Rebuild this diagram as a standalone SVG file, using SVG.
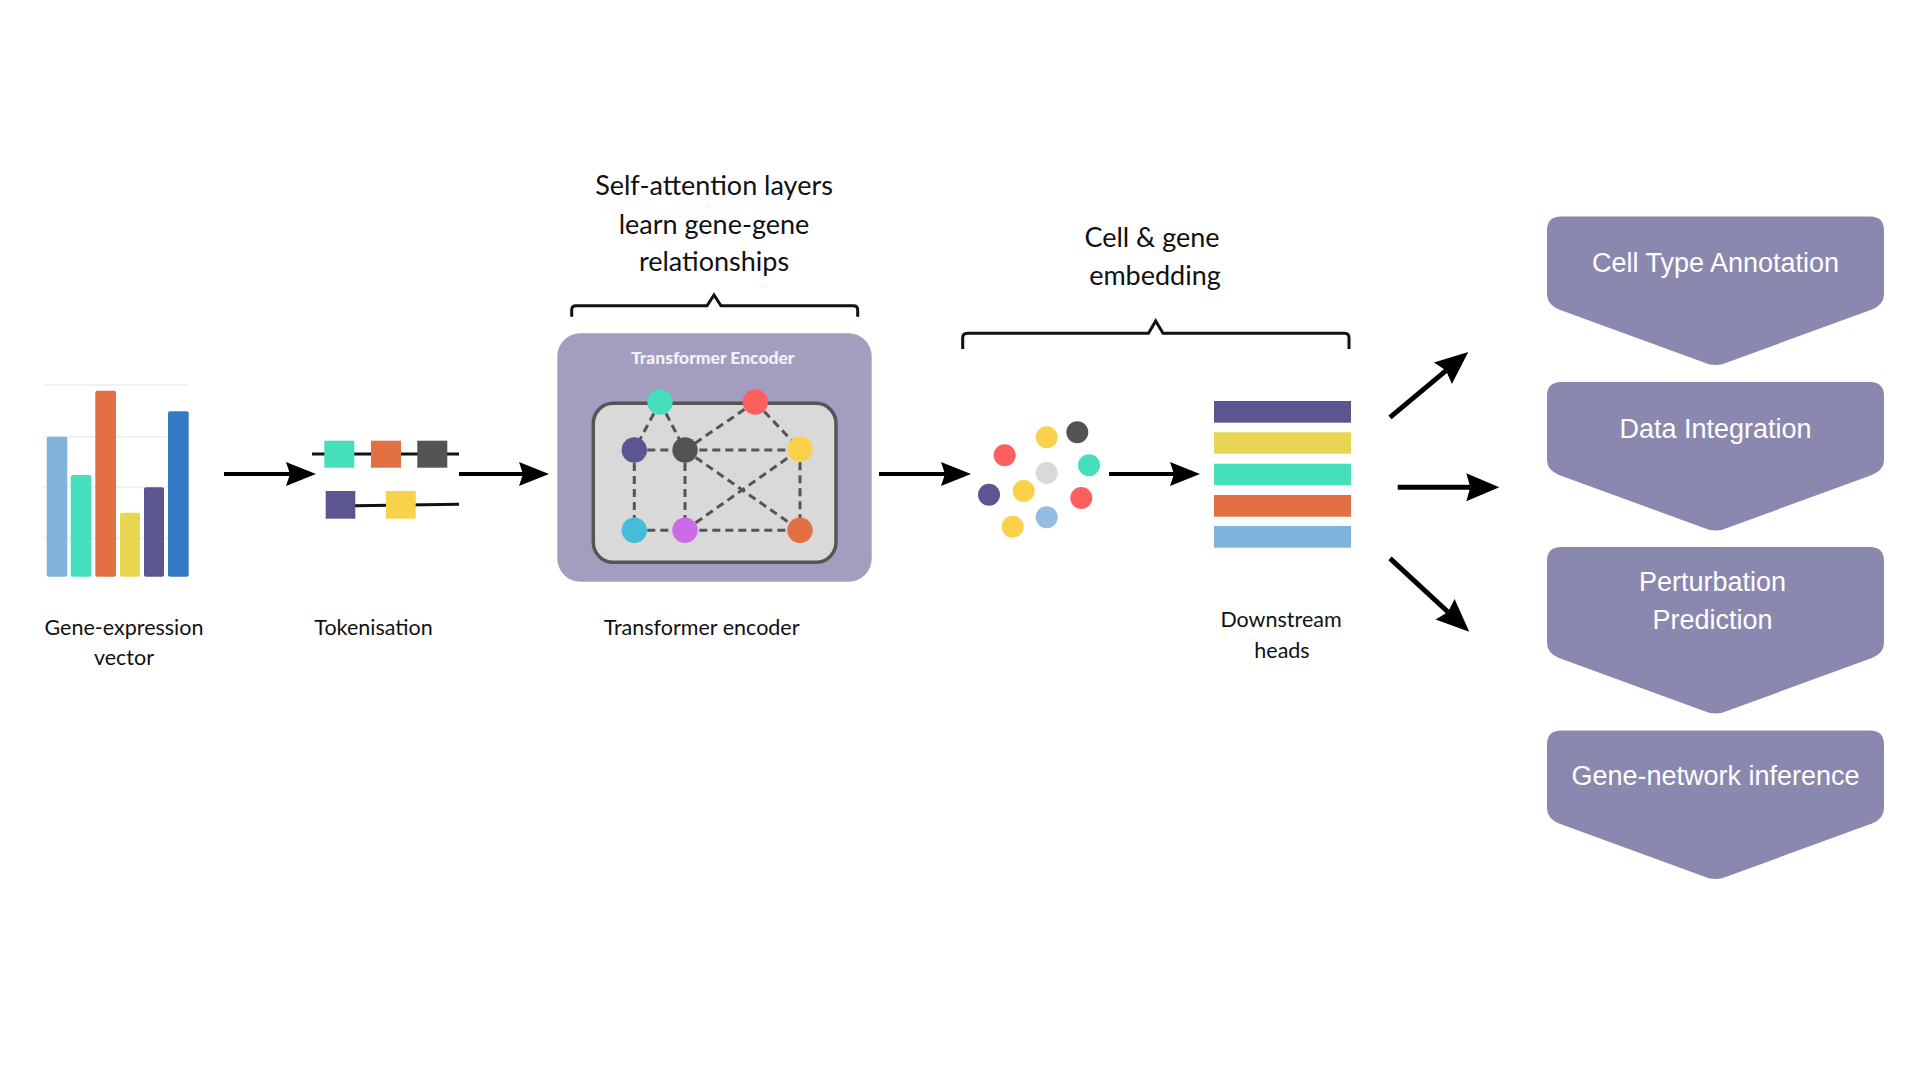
<svg xmlns="http://www.w3.org/2000/svg" width="1920" height="1080" viewBox="0 0 1920 1080">
<style>
.lbl{font-family:Lato,"Open Sans","DejaVu Sans",sans-serif;font-size:21.5px;fill:#111;text-anchor:middle}
.big{font-family:Lato,"Open Sans","DejaVu Sans",sans-serif;font-size:27px;fill:#111;text-anchor:middle}
.pt{font-family:"Liberation Sans",Arial,sans-serif;font-size:27px;fill:#ffffff;text-anchor:middle}
.panel{fill:#8b88b0}
.edge{stroke:#555555;stroke-width:3;stroke-dasharray:8 5;fill:none}
.arr{stroke:#000;stroke-width:4;fill:none}
.arrL{stroke:#000;stroke-width:5;fill:none}
.brace{stroke:#111;stroke-width:3;fill:none;stroke-linejoin:miter}
.grid{stroke:#eeeeee;stroke-width:1.5}
</style>
<defs>
<marker id="ah" markerUnits="userSpaceOnUse" markerWidth="40" markerHeight="40" refX="0" refY="0" orient="auto" overflow="visible">
<path d="M-4,-12 L26,0 L-4,12 L0,0 Z" fill="#000"/>
</marker>
<marker id="ahL" markerUnits="userSpaceOnUse" markerWidth="40" markerHeight="40" refX="0" refY="0" orient="auto" overflow="visible">
<path d="M-4,-14 L29,0 L-4,14 L0,0 Z" fill="#000"/>
</marker>
</defs>
<rect width="1920" height="1080" fill="#ffffff"/>

<g id="gene-expression">
<line class="grid" x1="43" y1="385" x2="188" y2="385"/>
<line class="grid" x1="43" y1="436.7" x2="188" y2="436.7"/>
<line class="grid" x1="43" y1="487" x2="188" y2="487"/>
<line class="grid" x1="43" y1="538" x2="188" y2="538"/>
<rect x="46.7" y="436.7" width="20.6" height="140" rx="2" fill="#7fb3dc"/>
<rect x="70.7" y="475" width="20.6" height="101.7" rx="2" fill="#45e0bb"/>
<rect x="95.3" y="390.7" width="20.7" height="186" rx="2" fill="#e37042"/>
<rect x="120" y="512.7" width="20" height="64" rx="2" fill="#e8d552"/>
<rect x="144" y="487.3" width="20" height="89.4" rx="2" fill="#5c5690"/>
<rect x="168" y="411.3" width="20.7" height="165.4" rx="2" fill="#3479c6"/>
<text class="lbl" x="124" y="635">Gene-expression</text>
<text class="lbl" x="124" y="665">vector</text>
</g>

<g id="tokenisation">
<line x1="312" y1="454" x2="459" y2="454" stroke="#111" stroke-width="3"/>
<line x1="355" y1="505.7" x2="459" y2="504.3" stroke="#111" stroke-width="3"/>
<rect x="324.3" y="440.7" width="30" height="27" fill="#45e0bb"/>
<rect x="371" y="440.7" width="30" height="27" fill="#e37042"/>
<rect x="417.3" y="440.7" width="30" height="27" fill="#545454"/>
<rect x="325.7" y="491" width="29.6" height="27.7" fill="#5c5690"/>
<rect x="386" y="491" width="29.7" height="27.7" fill="#f9d24b"/>
<text class="lbl" x="373.5" y="635">Tokenisation</text>
</g>

<g id="transformer-encoder">
<rect x="557.3" y="333.3" width="314.4" height="248.4" rx="23" fill="#a39ebf"/>
<text x="712.7" y="364" font-family="Lato,'Open Sans',sans-serif" font-weight="900" font-size="17.5" fill="#f3f1f8" text-anchor="middle">Transformer Encoder</text>
<rect x="593.3" y="403.3" width="242.7" height="159" rx="20" fill="#d9d9d9" stroke="#555555" stroke-width="3.5"/>
<g class="edges">
<line class="edge" x1="660" y1="402" x2="634.3" y2="450"/>
<line class="edge" x1="660" y1="402" x2="685" y2="450"/>
<line class="edge" x1="755.3" y1="402" x2="685" y2="450"/>
<line class="edge" x1="755.3" y1="402" x2="800" y2="449.3"/>
<line class="edge" x1="634.3" y1="450" x2="800" y2="450"/>
<line class="edge" x1="634.3" y1="450" x2="634.3" y2="530.3"/>
<line class="edge" x1="685" y1="450" x2="685" y2="530.3"/>
<line class="edge" x1="685" y1="450" x2="800" y2="530.3"/>
<line class="edge" x1="800" y1="449.3" x2="800" y2="530.3"/>
<line class="edge" x1="634.3" y1="530.3" x2="800" y2="530.3"/>
<line class="edge" x1="685" y1="530.3" x2="800" y2="449.3"/>
</g>
<circle cx="660" cy="402" r="12.7" fill="#45e0bb"/>
<circle cx="755.3" cy="402" r="12.7" fill="#fd5f5f"/>
<circle cx="634.3" cy="450" r="12.7" fill="#5c5690"/>
<circle cx="685" cy="450" r="12.7" fill="#535353"/>
<circle cx="800" cy="449.3" r="12.7" fill="#fbd14b"/>
<circle cx="634.3" cy="530.3" r="12.7" fill="#45bcd8"/>
<circle cx="685" cy="530.3" r="12.7" fill="#cc6ae8"/>
<circle cx="800" cy="530.3" r="12.7" fill="#e37042"/>
<text class="lbl" x="701.6" y="635">Transformer encoder</text>
</g>

<g id="self-attention-note">
<path class="brace" d="M571.7,316.7 L571.7,310 Q571.7,305.7 576,305.7 L707,305.7 L714,295 L721,305.7 L853.5,305.7 Q857.7,305.7 857.7,310 L857.7,316.7"/>
<text class="big" x="714" y="195">Self-attention layers</text>
<text class="big" x="714" y="234">learn gene-gene</text>
<text class="big" x="714" y="271">relationships</text>
</g>

<g id="embedding">
<circle cx="1046.7" cy="437.3" r="11" fill="#fbd14b"/>
<circle cx="1077.3" cy="432.3" r="11" fill="#535353"/>
<circle cx="1004.7" cy="455.3" r="11" fill="#fd5f5f"/>
<circle cx="1089" cy="465.3" r="11" fill="#45e0bb"/>
<circle cx="1046.7" cy="473" r="11" fill="#d9d9d9"/>
<circle cx="989" cy="494.7" r="11" fill="#5c5690"/>
<circle cx="1023.7" cy="491" r="11" fill="#fbd14b"/>
<circle cx="1081.3" cy="498" r="11" fill="#fd5f5f"/>
<circle cx="1046.7" cy="517.3" r="11" fill="#93bde3"/>
<circle cx="1012.7" cy="526.7" r="11" fill="#fbd14b"/>
</g>

<g id="embedding-note">
<path class="brace" d="M962.7,349 L962.7,338 Q962.7,333.3 967.5,333.3 L1148.5,333.3 L1155.7,321 L1163,333.3 L1344.5,333.3 Q1349,333.3 1349,338 L1349,349"/>
<text class="big" x="1152" y="247">Cell &amp; gene</text>
<text class="big" x="1155" y="285">embedding</text>
</g>

<g id="downstream-heads">
<rect x="1214" y="401" width="137" height="21.7" fill="#5c5690"/>
<rect x="1214" y="432.3" width="137" height="21.4" fill="#e8d552"/>
<rect x="1214" y="463.7" width="137" height="21.3" fill="#45e0bb"/>
<rect x="1214" y="495" width="137" height="21.7" fill="#e37042"/>
<rect x="1214" y="526" width="137" height="21.7" fill="#7fb3dc"/>
<text class="lbl" x="1281" y="627">Downstream</text>
<text class="lbl" x="1282" y="658">heads</text>
</g>

<g id="cell-type-annotation">
<path class="panel" d="M1561,216.5 L1870,216.5 Q1884,216.5 1884,230.5 L1884,294.5 Q1884,304.5 1872,309.5 L1727,362.5 Q1715.5,367.5 1704,362.5 L1559,309.5 Q1547,304.5 1547,294.5 L1547,230.5 Q1547,216.5 1561,216.5 Z"/>
<text class="pt" x="1715.5" y="272">Cell Type Annotation</text>
</g>
<g id="data-integration">
<path class="panel" d="M1561,382 L1870,382 Q1884,382 1884,396 L1884,460 Q1884,470 1872,475 L1727,528 Q1715.5,533 1704,528 L1559,475 Q1547,470 1547,460 L1547,396 Q1547,382 1561,382 Z"/>
<text class="pt" x="1715.5" y="438">Data Integration</text>
</g>
<g id="perturbation-prediction">
<path class="panel" d="M1561,547 L1870,547 Q1884,547 1884,561 L1884,643 Q1884,653 1872,658 L1727,711 Q1715.5,716 1704,711 L1559,658 Q1547,653 1547,643 L1547,561 Q1547,547 1561,547 Z"/>
<text class="pt" x="1712.5" y="591">Perturbation</text>
<text class="pt" x="1712.5" y="629">Prediction</text>
</g>
<g id="gene-network-inference">
<path class="panel" d="M1561,730.5 L1870,730.5 Q1884,730.5 1884,744.5 L1884,808.5 Q1884,818.5 1872,823.5 L1727,876.5 Q1715.5,881.5 1704,876.5 L1559,823.5 Q1547,818.5 1547,808.5 L1547,744.5 Q1547,730.5 1561,730.5 Z"/>
<text class="pt" x="1715.5" y="785">Gene-network inference</text>
</g>

<g id="connectors">
<line class="arr" x1="224" y1="474" x2="290" y2="474" marker-end="url(#ah)"/>
<line class="arr" x1="459" y1="474" x2="523" y2="474" marker-end="url(#ah)"/>
<line class="arr" x1="879" y1="474" x2="945" y2="474" marker-end="url(#ah)"/>
<line class="arr" x1="1109" y1="474" x2="1174" y2="474" marker-end="url(#ah)"/>
<line class="arrL" x1="1390" y1="417.3" x2="1446" y2="370.6" marker-end="url(#ahL)"/>
<line class="arrL" x1="1397.7" y1="487.3" x2="1470.3" y2="487.3" marker-end="url(#ahL)"/>
<line class="arrL" x1="1390" y1="558.3" x2="1448" y2="612" marker-end="url(#ahL)"/>
</g>
</svg>
